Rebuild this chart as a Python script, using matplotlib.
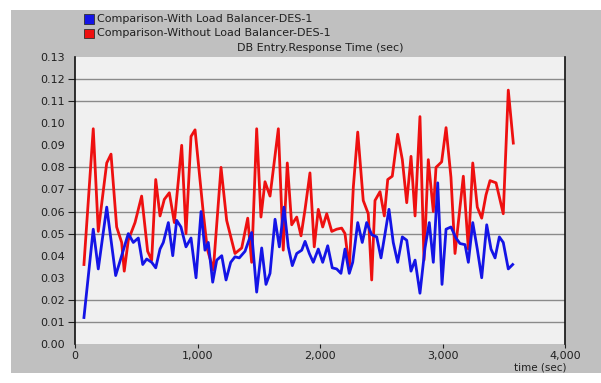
import matplotlib.pyplot as plt
from matplotlib.patches import Rectangle

plt.rcParams['axes.grid'] = False

# DB Entry response time samples (time in sec, response time in sec)
with_lb_time = [73, 149, 190, 259, 332, 381, 435, 476, 517, 553, 585, 626, 659, 694,
                721, 762, 798, 830, 865, 906, 947, 988, 1029, 1061, 1088, 1124, 1157,
                1198, 1233, 1271, 1306, 1341, 1388, 1442, 1483, 1524, 1559, 1592, 1633,
                1668, 1706, 1741, 1774, 1810, 1851, 1878, 1913, 1945, 1986, 2022, 2063,
                2100, 2136, 2171, 2204, 2239, 2267, 2308, 2345, 2381, 2422, 2463, 2498,
                2531, 2563, 2598, 2634, 2672, 2708, 2743, 2776, 2816, 2857, 2892, 2925,
                2961, 2996, 3029, 3069, 3110, 3143, 3184, 3211, 3247, 3284, 3320, 3361,
                3396, 3429, 3464, 3496, 3537, 3573]
with_lb_resp = [0.012, 0.052, 0.034, 0.062, 0.031, 0.040, 0.050, 0.046, 0.048, 0.036,
                0.0385, 0.037, 0.0345, 0.043, 0.046, 0.055, 0.040, 0.056, 0.053, 0.044,
                0.048, 0.030, 0.060, 0.0425, 0.046, 0.028, 0.038, 0.040, 0.029, 0.037,
                0.0395, 0.039, 0.042, 0.0505, 0.0235, 0.0435, 0.027, 0.032, 0.0565,
                0.044, 0.062, 0.044, 0.0355, 0.041, 0.0425, 0.0465, 0.041, 0.037, 0.043,
                0.037, 0.0445, 0.0345, 0.034, 0.032, 0.043, 0.032, 0.037, 0.055, 0.046,
                0.055, 0.0495, 0.0485, 0.039, 0.050, 0.061, 0.046, 0.037, 0.0485, 0.047,
                0.033, 0.038, 0.023, 0.0435, 0.055, 0.037, 0.073, 0.027, 0.052, 0.053,
                0.048, 0.0455, 0.045, 0.037, 0.055, 0.043, 0.030, 0.054, 0.043, 0.039,
                0.0485, 0.046, 0.034, 0.036]

without_lb_time = [73, 149, 190, 259, 294, 340, 381, 402, 435, 490, 544, 593, 626, 659,
                   694, 729, 770, 811, 871, 906, 947, 980, 1047, 1080, 1129, 1192, 1238,
                   1306, 1361, 1410, 1442, 1483, 1518, 1551, 1592, 1660, 1700, 1733,
                   1769, 1810, 1845, 1878, 1918, 1953, 1986, 2022, 2055, 2096, 2136,
                   2177, 2204, 2239, 2272, 2308, 2353, 2394, 2422, 2449, 2490, 2525,
                   2553, 2590, 2634, 2672, 2708, 2743, 2776, 2816, 2849, 2884, 2925,
                   2947, 2993, 3029, 3069, 3102, 3170, 3211, 3247, 3284, 3320, 3355,
                   3388, 3437, 3496, 3537, 3578]
without_lb_resp = [0.036, 0.0975, 0.051, 0.082, 0.086, 0.053, 0.046, 0.033, 0.047, 0.055,
                   0.067, 0.042, 0.038, 0.0745, 0.058, 0.0655, 0.0685, 0.055, 0.090,
                   0.050, 0.094, 0.097, 0.0595, 0.043, 0.0335, 0.080, 0.056, 0.041,
                   0.0435, 0.057, 0.037, 0.0975, 0.0575, 0.0735, 0.067, 0.0975, 0.0425,
                   0.082, 0.054, 0.0575, 0.049, 0.061, 0.0775, 0.044, 0.061, 0.053,
                   0.059, 0.051, 0.052, 0.0525, 0.050, 0.034, 0.071, 0.096, 0.065,
                   0.059, 0.029, 0.065, 0.069, 0.058, 0.0745, 0.076, 0.095, 0.0835,
                   0.064, 0.085, 0.058, 0.103, 0.038, 0.0835, 0.060, 0.080, 0.0825,
                   0.098, 0.0755, 0.041, 0.076, 0.043, 0.082, 0.062, 0.057, 0.0675,
                   0.074, 0.073, 0.059, 0.115, 0.091]

series_names = ['Comparison-With Load Balancer-DES-1',
                'Comparison-Without Load Balancer-DES-1']
series_colors = ['#1414e6', '#ee1010']

x_ticks = [0, 1000, 2000, 3000, 4000]
x_tick_labels = ['0', '1,000', '2,000', '3,000', '4,000']
y_ticks = [0.00, 0.01, 0.02, 0.03, 0.04, 0.05, 0.06, 0.07, 0.08, 0.09, 0.10, 0.11, 0.12, 0.13]
# levels that get a tick mark and a horizontal line
grid_vals = [0.01, 0.02, 0.05, 0.06, 0.07, 0.08, 0.11, 0.12]

W, H = 601, 383
fig = plt.figure(figsize=(W / 100, H / 100), dpi=100)
fig.patch.set_facecolor('white')
fig.patches.append(Rectangle((11 / W, 10 / H), 590 / W, 363 / H, transform=fig.transFigure,
                             facecolor='#c0c0c0', edgecolor='none', zorder=-5))

ax = fig.add_axes([75 / W, 1 - 344 / H, 490 / W, 287 / H])
ax.set_facecolor('#f0f0f0')
ax.grid(False)

for v in grid_vals:
    ax.axhline(v, color='#8a8a8a', lw=1.0, zorder=1)

ax.plot(without_lb_time, without_lb_resp, color=series_colors[1], lw=2.0, zorder=3)
ax.plot(with_lb_time, with_lb_resp, color=series_colors[0], lw=2.0, zorder=4)

ax.set_xlim(0, 4000)
ax.set_ylim(0, 0.13)

ax.set_xticks(x_ticks)
ax.set_xticklabels(x_tick_labels)
ax.set_yticks(y_ticks)
ax.set_yticklabels(['%.2f' % v for v in y_ticks])
ax.minorticks_off()

ax.tick_params(axis='y', length=5, width=0.8, color='#202020', pad=2,
               labelsize=8, labelcolor='#202020')
ax.tick_params(axis='x', length=3, width=0.8, color='#202020', pad=2, labelsize=8,
               labelcolor='#202020')

# hide the tick marks on levels without a line
for v, tick in zip(y_ticks, ax.yaxis.get_major_ticks()):
    if round(v, 2) not in grid_vals:
        tick.tick1line.set_visible(False)
    tick.gridline.set_visible(False)

for side in ['top', 'bottom']:
    ax.spines[side].set_visible(False)
for side in ['left', 'right']:
    ax.spines[side].set_color('#101010')
    ax.spines[side].set_linewidth(1.2)

ax.set_title('DB Entry.Response Time (sec)', fontsize=8, color='#202020', pad=4)
fig.text(540 / W, 1 - 368 / H, 'time (sec)', fontsize=7.5, color='#202020',
         ha='center', va='center')

# legend swatches above the plot
for i, (name, col) in enumerate(zip(series_names, series_colors)):
    yc = 19 + 14 * i
    fig.patches.append(Rectangle((84 / W, 1 - (yc + 4.5) / H), 10 / W, 9 / H,
                                 transform=fig.transFigure, facecolor=col,
                                 edgecolor='#303030', lw=0.6, zorder=2))
    fig.text(97 / W, 1 - yc / H, name, fontsize=8, color='#202020',
             ha='left', va='center')

fig.savefig('out.png', dpi=100)
